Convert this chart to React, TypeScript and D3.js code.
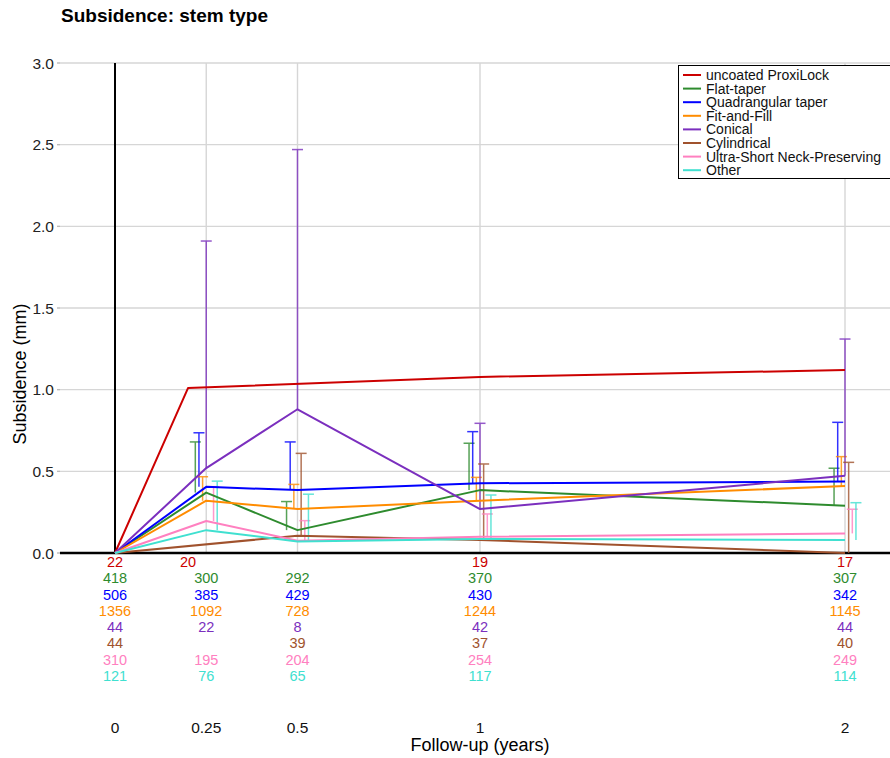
import React, { useEffect, useRef } from 'react';
import * as d3 from 'd3';

// series labels and colours (legend order)
const seriesNames = [
  'uncoated ProxiLock',
  'Flat-taper',
  'Quadrangular taper',
  'Fit-and-Fill',
  'Conical',
  'Cylindrical',
  'Ultra-Short Neck-Preserving',
  'Other',
];
const seriesColors = ['#cc0000', '#2e8b2e', '#0000ff', '#ff8c00', '#7b2fbe', '#a0522d', '#ff80c0', '#40e0d0'];

// follow-up times (years)
const proxiLockTime = [0, 0.2, 1, 2];
const stemTime = [0, 0.25, 0.5, 1, 2];
const cylindricalTime = [0, 0.5, 1, 2];

// mean subsidence (mm)
const proxiLockMean = [0, 1.01, 1.078, 1.12];
const flatTaperMean = [0, 0.37, 0.14, 0.385, 0.29];
const quadrangularMean = [0, 0.405, 0.385, 0.427, 0.437];
const fitAndFillMean = [0, 0.32, 0.27, 0.32, 0.41];
const conicalMean = [0, 0.52, 0.88, 0.269, 0.473];
const cylindricalMean = [0, 0.106, 0.08, 0.0];
const ultraShortMean = [0, 0.196, 0.075, 0.1, 0.12];
const otherMean = [0, 0.14, 0.07, 0.086, 0.08];

// mean + SD (upper end of the error bar), null = no bar
const proxiLockUpper = [null, null, null, null];
const flatTaperUpper = [null, 0.68, 0.315, 0.672, 0.519];
const quadrangularUpper = [null, 0.736, 0.68, 0.743, 0.8];
const fitAndFillUpper = [null, 0.467, 0.42, 0.463, 0.59];
const conicalUpper = [null, 1.91, 2.47, 0.794, 1.31];
const cylindricalUpper = [null, 0.61, 0.545, 0.555];
const ultraShortUpper = [null, 0.406, 0.198, 0.239, 0.268];
const otherUpper = [null, 0.44, 0.36, 0.355, 0.308];

// number of patients at each time point
const proxiLockN = [22, 20, 19, 17];
const flatTaperN = [418, 300, 292, 370, 307];
const quadrangularN = [506, 385, 429, 430, 342];
const fitAndFillN = [1356, 1092, 728, 1244, 1145];
const conicalN = [44, 22, 8, 42, 44];
const cylindricalN = [44, 39, 37, 40];
const ultraShortN = [310, 195, 204, 254, 249];
const otherN = [121, 76, 65, 117, 114];

const xTicks = [0, 0.25, 0.5, 1, 2];
const xTickLabels = ['0', '0.25', '0.5', '1', '2'];
const yTicks = [0, 0.5, 1, 1.5, 2, 2.5, 3];

const seriesTimes = [proxiLockTime, stemTime, stemTime, stemTime, stemTime, cylindricalTime, stemTime, stemTime];
const seriesMeans = [proxiLockMean, flatTaperMean, quadrangularMean, fitAndFillMean, conicalMean, cylindricalMean, ultraShortMean, otherMean];
const seriesUpper = [proxiLockUpper, flatTaperUpper, quadrangularUpper, fitAndFillUpper, conicalUpper, cylindricalUpper, ultraShortUpper, otherUpper];
const seriesN = [proxiLockN, flatTaperN, quadrangularN, fitAndFillN, conicalN, cylindricalN, ultraShortN, otherN];

const font = '"Liberation Sans", Arial, sans-serif';

const App = () => {
  const svgRef = useRef<SVGSVGElement>(null);

  useEffect(() => {
    const width = 890;
    const height = 758;
    const panelLeft = 60;
    const panelRight = 890;

    const svg = d3.select(svgRef.current);
    svg.selectAll('*').remove();
    svg.attr('width', width).attr('height', height);

    const series = seriesNames.map((name, i) => ({
      name,
      color: seriesColors[i],
      points: seriesTimes[i].map((t, j) => ({
        t,
        mean: seriesMeans[i][j],
        upper: seriesUpper[i][j],
        n: seriesN[i][j],
      })),
    }));

    const x = d3.scaleLinear().domain([0, 2]).range([115, 845]);
    const y = d3.scaleLinear().domain([0, 3]).range([553, 63]);

    // title
    svg.append('text')
      .attr('x', 61)
      .attr('y', 22)
      .style('font-family', font)
      .style('font-size', '19px')
      .style('font-weight', 'bold')
      .text('Subsidence: stem type');

    // gridlines
    svg.append('g')
      .selectAll('line')
      .data(yTicks.filter(d => d > 0))
      .join('line')
      .attr('x1', panelLeft)
      .attr('x2', panelRight)
      .attr('y1', d => y(d))
      .attr('y2', d => y(d))
      .attr('stroke', '#d6d6d6')
      .attr('stroke-width', 1.4);

    svg.append('g')
      .selectAll('line')
      .data(xTicks.filter(d => d > 0))
      .join('line')
      .attr('x1', d => x(d))
      .attr('x2', d => x(d))
      .attr('y1', y(3))
      .attr('y2', y(0))
      .attr('stroke', '#d6d6d6')
      .attr('stroke-width', 1.4);

    // y ticks + labels
    svg.append('g')
      .selectAll('line')
      .data(yTicks)
      .join('line')
      .attr('x1', panelLeft - 3)
      .attr('x2', panelLeft)
      .attr('y1', d => y(d))
      .attr('y2', d => y(d))
      .attr('stroke', '#bbb')
      .attr('stroke-width', 1.4);

    svg.append('g')
      .selectAll('text')
      .data(yTicks)
      .join('text')
      .attr('x', panelLeft - 6)
      .attr('y', d => y(d))
      .attr('dy', '0.36em')
      .attr('text-anchor', 'end')
      .style('font-family', font)
      .style('font-size', '15.5px')
      .attr('fill', '#222')
      .text(d => d3.format('.1f')(d));

    // axis lines at 0
    svg.append('line')
      .attr('x1', x(0)).attr('x2', x(0))
      .attr('y1', y(3)).attr('y2', y(0))
      .attr('stroke', '#000').attr('stroke-width', 2);
    svg.append('line')
      .attr('x1', panelLeft).attr('x2', panelRight)
      .attr('y1', y(0)).attr('y2', y(0))
      .attr('stroke', '#000').attr('stroke-width', 2.5);

    // error bars (dodged per series, mean -> mean + SD)
    const dodge = 0.01;
    const capHalf = 5.5;
    series.forEach((s, i) => {
      const bars = s.points.filter(p => p.upper !== null);
      const g = svg.append('g')
        .attr('stroke', s.color)
        .attr('stroke-width', 1.5)
        .attr('opacity', 0.8);
      g.selectAll('line.v')
        .data(bars)
        .join('line')
        .attr('class', 'v')
        .attr('x1', p => x(p.t + (i - 4) * dodge))
        .attr('x2', p => x(p.t + (i - 4) * dodge))
        .attr('y1', p => y(p.mean))
        .attr('y2', p => y(p.upper as number));
      g.selectAll('line.c')
        .data(bars)
        .join('line')
        .attr('class', 'c')
        .attr('x1', p => x(p.t + (i - 4) * dodge) - capHalf)
        .attr('x2', p => x(p.t + (i - 4) * dodge) + capHalf)
        .attr('y1', p => y(p.upper as number))
        .attr('y2', p => y(p.upper as number));
    });

    // mean lines
    const line = d3.line<{ t: number; mean: number }>()
      .x(p => x(p.t))
      .y(p => y(p.mean));

    series.forEach(s => {
      svg.append('path')
        .datum(s.points)
        .attr('d', line)
        .attr('fill', 'none')
        .attr('stroke', s.color)
        .attr('stroke-width', 2)
        .attr('stroke-linejoin', 'round');
    });

    // numbers at risk table
    series.forEach((s, i) => {
      svg.append('g')
        .selectAll('text')
        .data(s.points)
        .join('text')
        .attr('x', p => x(p.t))
        .attr('y', 562 + i * 16.25)
        .attr('dy', '0.36em')
        .attr('text-anchor', 'middle')
        .style('font-family', font)
        .style('font-size', '14.5px')
        .attr('fill', s.color)
        .text(p => p.n);
    });

    // x tick labels
    svg.append('g')
      .selectAll('text')
      .data(xTicks)
      .join('text')
      .attr('x', d => x(d))
      .attr('y', 727)
      .attr('dy', '0.36em')
      .attr('text-anchor', 'middle')
      .style('font-family', font)
      .style('font-size', '15.5px')
      .attr('fill', '#111')
      .text((d, i) => xTickLabels[i]);

    // axis titles
    svg.append('text')
      .attr('x', 480)
      .attr('y', 745)
      .attr('dy', '0.36em')
      .attr('text-anchor', 'middle')
      .style('font-family', font)
      .style('font-size', '18px')
      .text('Follow-up (years)');

    svg.append('text')
      .attr('transform', `translate(20,374) rotate(-90)`)
      .attr('dy', '0.36em')
      .attr('text-anchor', 'middle')
      .style('font-family', font)
      .style('font-size', '18px')
      .text('Subsidence (mm)');

    // legend
    const legend = svg.append('g');
    legend.append('rect')
      .attr('x', 678.5)
      .attr('y', 65.5)
      .attr('width', 212)
      .attr('height', 113)
      .attr('fill', '#fff')
      .attr('stroke', '#000')
      .attr('stroke-width', 1);

    const items = legend.selectAll('g.item')
      .data(series)
      .join('g')
      .attr('class', 'item')
      .attr('transform', (d, i) => `translate(0,${75 + i * 13.6})`);

    items.append('line')
      .attr('x1', 683)
      .attr('x2', 701)
      .attr('stroke', d => d.color)
      .attr('stroke-width', 2);

    items.append('text')
      .attr('x', 706)
      .attr('dy', '0.36em')
      .style('font-family', font)
      .style('font-size', '14px')
      .attr('fill', '#111')
      .text(d => d.name);
  }, []);

  return (
    <svg
      ref={svgRef}
      style={{ position: 'absolute', left: 0, top: 0, display: 'block', background: '#fff' }}
    />
  );
};

export default App;
